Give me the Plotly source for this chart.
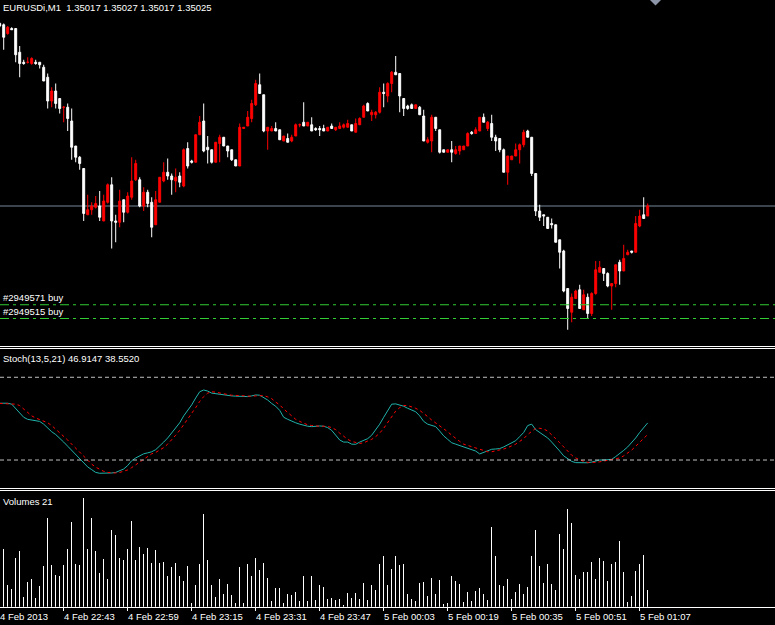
import plotly.graph_objects as go

SYMBOL = "EURUSDi,M1"

open_ = [1.35171, 1.35170, 1.35163, 1.35167, 1.35167, 1.35148, 1.35140, 1.35140, 1.35139, 1.35140,
         1.35140, 1.35136, 1.35128, 1.35109, 1.35117, 1.35111, 1.35104, 1.35104, 1.35093, 1.35073,
         1.35064, 1.35055, 1.35018, 1.35022, 1.35024, 1.35025, 1.35013, 1.35028, 1.35042, 1.35013,
         1.35012, 1.35030, 1.35020, 1.35032, 1.35046, 1.35046, 1.35025, 1.35036, 1.35028, 1.35010,
         1.35028, 1.35045, 1.35052, 1.35049, 1.35045, 1.35049, 1.35041, 1.35071, 1.35061, 1.35060,
         1.35082, 1.35093, 1.35072, 1.35070, 1.35060, 1.35075, 1.35080, 1.35073, 1.35070, 1.35062,
         1.35057, 1.35087, 1.35089, 1.35095, 1.35106, 1.35122, 1.35114, 1.35085, 1.35085, 1.35087,
         1.35086, 1.35077, 1.35079, 1.35077, 1.35081, 1.35090, 1.35092, 1.35089, 1.35090, 1.35087,
         1.35087, 1.35087, 1.35085, 1.35089, 1.35086, 1.35087, 1.35088, 1.35088, 1.35090, 1.35084,
         1.35090, 1.35096, 1.35107, 1.35098, 1.35098, 1.35100, 1.35116, 1.35113, 1.35123, 1.35132,
         1.35131, 1.35111, 1.35105, 1.35106, 1.35103, 1.35104, 1.35097, 1.35076, 1.35077, 1.35096,
         1.35086, 1.35070, 1.35068, 1.35070, 1.35067, 1.35069, 1.35070, 1.35073, 1.35084, 1.35083,
         1.35085, 1.35096, 1.35087, 1.35091, 1.35080, 1.35079, 1.35070, 1.35052, 1.35062, 1.35065,
         1.35070, 1.35074, 1.35085, 1.35080, 1.35051, 1.35021, 1.35018, 1.35016, 1.35011, 1.35010,
         1.34998, 1.34989, 1.34959, 1.34940, 1.34951, 1.34958, 1.34942, 1.34952, 1.34939, 1.34955,
         1.34972, 1.34975, 1.34971, 1.34961, 1.34963, 1.34980, 1.34973, 1.34986, 1.34989, 1.34988,
         1.35009, 1.35018, 1.35017]

high_ = [1.35172, 1.35171, 1.35169, 1.35168, 1.35167, 1.35153, 1.35142, 1.35144, 1.35144, 1.35142,
         1.35140, 1.35138, 1.35131, 1.35120, 1.35123, 1.35111, 1.35105, 1.35107, 1.35103, 1.35073,
         1.35065, 1.35055, 1.35034, 1.35028, 1.35033, 1.35037, 1.35034, 1.35043, 1.35048, 1.35018,
         1.35038, 1.35030, 1.35036, 1.35064, 1.35062, 1.35048, 1.35040, 1.35038, 1.35032, 1.35037,
         1.35048, 1.35060, 1.35063, 1.35051, 1.35055, 1.35052, 1.35071, 1.35076, 1.35062, 1.35082,
         1.35097, 1.35107, 1.35081, 1.35070, 1.35076, 1.35082, 1.35080, 1.35073, 1.35070, 1.35062,
         1.35091, 1.35088, 1.35101, 1.35110, 1.35126, 1.35131, 1.35114, 1.35088, 1.35089, 1.35092,
         1.35086, 1.35081, 1.35083, 1.35082, 1.35091, 1.35091, 1.35108, 1.35092, 1.35096, 1.35088,
         1.35089, 1.35090, 1.35088, 1.35091, 1.35088, 1.35092, 1.35091, 1.35094, 1.35090, 1.35095,
         1.35096, 1.35106, 1.35108, 1.35102, 1.35101, 1.35120, 1.35123, 1.35124, 1.35133, 1.35145,
         1.35131, 1.35111, 1.35106, 1.35107, 1.35106, 1.35105, 1.35102, 1.35080, 1.35098, 1.35096,
         1.35086, 1.35070, 1.35070, 1.35077, 1.35073, 1.35073, 1.35073, 1.35084, 1.35085, 1.35088,
         1.35096, 1.35099, 1.35093, 1.35098, 1.35082, 1.35079, 1.35071, 1.35065, 1.35065, 1.35075,
         1.35075, 1.35086, 1.35086, 1.35080, 1.35051, 1.35026, 1.35018, 1.35016, 1.35015, 1.35010,
         1.34998, 1.34990, 1.34959, 1.34955, 1.34958, 1.34962, 1.34958, 1.34955, 1.34956, 1.34981,
         1.34981, 1.34975, 1.34972, 1.34963, 1.34978, 1.34982, 1.34994, 1.34990, 1.34989, 1.35017,
         1.35022, 1.35032, 1.35027]

low_ = [1.35168, 1.35150, 1.35162, 1.35166, 1.35140, 1.35128, 1.35138, 1.35139, 1.35138, 1.35138,
        1.35135, 1.35125, 1.35103, 1.35104, 1.35103, 1.35099, 1.35092, 1.35085, 1.35062, 1.35060,
        1.35054, 1.35013, 1.35018, 1.35018, 1.35023, 1.35013, 1.35013, 1.35027, 1.34991, 1.34996,
        1.35008, 1.35012, 1.35019, 1.35030, 1.35045, 1.35024, 1.35021, 1.35024, 1.35000, 1.35010,
        1.35028, 1.35044, 1.35046, 1.35034, 1.35036, 1.35040, 1.35040, 1.35055, 1.35059, 1.35060,
        1.35082, 1.35068, 1.35059, 1.35059, 1.35060, 1.35060, 1.35073, 1.35064, 1.35061, 1.35057,
        1.35057, 1.35087, 1.35089, 1.35092, 1.35105, 1.35115, 1.35084, 1.35070, 1.35085, 1.35085,
        1.35078, 1.35077, 1.35076, 1.35076, 1.35081, 1.35088, 1.35089, 1.35089, 1.35085, 1.35085,
        1.35081, 1.35085, 1.35085, 1.35087, 1.35085, 1.35087, 1.35087, 1.35088, 1.35085, 1.35084,
        1.35090, 1.35096, 1.35101, 1.35093, 1.35095, 1.35099, 1.35104, 1.35108, 1.35116, 1.35130,
        1.35100, 1.35097, 1.35102, 1.35103, 1.35103, 1.35098, 1.35077, 1.35075, 1.35068, 1.35085,
        1.35067, 1.35068, 1.35068, 1.35060, 1.35066, 1.35066, 1.35070, 1.35073, 1.35082, 1.35083,
        1.35085, 1.35092, 1.35085, 1.35077, 1.35069, 1.35068, 1.35052, 1.35042, 1.35062, 1.35065,
        1.35059, 1.35072, 1.35080, 1.35049, 1.35017, 1.35013, 1.35009, 1.35007, 1.35007, 1.34996,
        1.34975, 1.34956, 1.34926, 1.34932, 1.34951, 1.34943, 1.34942, 1.34935, 1.34937, 1.34954,
        1.34972, 1.34965, 1.34960, 1.34942, 1.34960, 1.34962, 1.34973, 1.34986, 1.34987, 1.34988,
        1.35008, 1.35015, 1.35017]

close_ = [1.35169, 1.35160, 1.35168, 1.35166, 1.35146, 1.35139, 1.35139, 1.35140, 1.35143, 1.35139,
          1.35138, 1.35125, 1.35109, 1.35117, 1.35107, 1.35103, 1.35104, 1.35095, 1.35072, 1.35064,
          1.35059, 1.35019, 1.35022, 1.35025, 1.35027, 1.35016, 1.35029, 1.35042, 1.35013, 1.35012,
          1.35029, 1.35020, 1.35033, 1.35045, 1.35059, 1.35025, 1.35036, 1.35027, 1.35008, 1.35030,
          1.35048, 1.35052, 1.35049, 1.35046, 1.35048, 1.35044, 1.35070, 1.35057, 1.35060, 1.35082,
          1.35092, 1.35069, 1.35070, 1.35060, 1.35076, 1.35080, 1.35073, 1.35069, 1.35062, 1.35057,
          1.35088, 1.35088, 1.35096, 1.35107, 1.35123, 1.35115, 1.35085, 1.35088, 1.35087, 1.35085,
          1.35078, 1.35081, 1.35076, 1.35080, 1.35090, 1.35090, 1.35089, 1.35092, 1.35085, 1.35086,
          1.35086, 1.35085, 1.35088, 1.35087, 1.35088, 1.35089, 1.35090, 1.35091, 1.35085, 1.35091,
          1.35095, 1.35105, 1.35101, 1.35100, 1.35100, 1.35116, 1.35115, 1.35123, 1.35132, 1.35130,
          1.35113, 1.35103, 1.35103, 1.35103, 1.35106, 1.35098, 1.35077, 1.35078, 1.35096, 1.35087,
          1.35068, 1.35068, 1.35070, 1.35068, 1.35070, 1.35073, 1.35073, 1.35083, 1.35083, 1.35086,
          1.35096, 1.35092, 1.35092, 1.35080, 1.35077, 1.35070, 1.35052, 1.35065, 1.35065, 1.35070,
          1.35074, 1.35084, 1.35080, 1.35051, 1.35021, 1.35016, 1.35017, 1.35007, 1.35010, 1.34996,
          1.34988, 1.34957, 1.34943, 1.34952, 1.34957, 1.34943, 1.34954, 1.34939, 1.34955, 1.34974,
          1.34976, 1.34971, 1.34961, 1.34963, 1.34978, 1.34973, 1.34983, 1.34988, 1.34988, 1.35011,
          1.35017, 1.35015, 1.35025]

volume = [30,
          72, 27, 22, 61, 70, 12, 31, 35, 11, 26,
          51, 111, 52, 40, 38, 52, 72, 106, 53, 52,
          136, 72, 111, 70, 42, 60, 35, 96, 90, 61,
          58, 72, 107, 58, 75, 66, 73, 55, 71, 55,
          56, 38, 50, 55, 38, 32, 51, 5, 27, 53,
          116, 58, 27, 12, 35, 16, 28, 15, 5, 50,
          5, 53, 38, 61, 46, 55, 36, 7, 23, 23,
          5, 16, 15, 18, 7, 38, 7, 38, 8, 27,
          25, 10, 11, 8, 10, 2, 17, 11, 17, 10,
          30, 8, 27, 21, 53, 63, 27, 47, 63, 52,
          53, 16, 10, 7, 30, 31, 13, 36, 16, 33,
          3, 5, 38, 32, 28, 6, 18, 7, 20, 23,
          16, 8, 100, 63, 27, 26, 35, 10, 18, 28,
          16, 25, 63, 96, 51, 30, 53, 28, 21, 91,
          72, 122, 105, 40, 35, 43, 43, 56, 35, 61,
          57, 32, 53, 56, 82, 43, 6, 13, 45, 53,
          65, 21]

stoch_main = [61.2, 61.2, 61.2, 60.5, 57.5, 54, 51, 49.5, 49, 49,
              48, 46, 43, 40.5, 38.5, 36, 33, 30, 27, 24,
              20.5, 17.5, 15, 13, 11, 10.4, 10.4, 10.4, 10.6, 11,
              12.3, 13.5, 16, 19.5, 21.5, 23, 24.5, 25.2, 26, 27.5,
              30, 33, 36, 39.5, 43, 47, 52, 56, 60, 65,
              69.5, 70.8, 70, 68.5, 68, 67.5, 67, 67, 66.5, 66.3,
              66.2, 66, 66, 66.5, 67.2, 67, 65.5, 63.5, 61, 59,
              56, 51, 49.5, 48, 47, 46, 45, 44.5, 44.2, 44.5,
              44.7, 44.5, 43.5, 41.5, 38, 34.5, 33, 33, 31.5, 31.4,
              33, 34, 35.5, 38, 42, 46, 51, 56, 60.5, 60.7,
              60, 59, 57.5, 56, 55, 52, 48, 46, 45, 44.2,
              41, 37.5, 35, 32.5, 31.5, 30.5, 29, 28.5, 27.5, 26.5,
              24.4, 25.5, 26.5, 27.8, 28, 28.3, 29.5, 31, 33, 34,
              37, 40, 45, 46, 42, 40, 38.5, 36, 33, 30,
              26.5, 23, 21, 19, 18.1, 18, 18, 18, 18.5, 19.5,
              20, 20, 20, 20.5, 22.5, 24.5, 27, 29.5, 32.5, 36,
              40, 43.5, 46.9147]

stoch_signal = [61, 61, 61, 61, 60.5, 59.5, 57, 54.5, 52, 50.5,
                49.5, 48.5, 47, 45, 42.5, 40, 37.5, 34.5, 31.5, 28.5,
                25.5, 22.5, 19.5, 17, 14.8, 13, 11.8, 11, 10.6, 10.6,
                11, 11.7, 12.8, 14.5, 16.5, 19, 21, 23, 24.5, 25.5,
                27, 29, 31.5, 34.5, 38, 41.5, 45.5, 49.5, 54, 58,
                62.5, 66, 68.5, 69.5, 69.2, 68.5, 68, 67.5, 67, 66.8,
                66.5, 66.2, 66.1, 66.2, 66.5, 66.8, 66.7, 65.8, 64.5, 62,
                60, 57, 54.5, 52, 49.5, 48, 46.5, 45.5, 45, 44.6,
                44.5, 44.5, 44.3, 43.5, 42, 39.5, 37, 35, 33.5, 32.5,
                32, 32.5, 33.5, 35, 37, 39.5, 43, 47, 51.5, 55.5,
                58, 59.5, 59.5, 58.7, 57.5, 56, 54, 51.5, 49, 47,
                45, 43, 40.5, 38, 35.5, 33.5, 31.5, 30.5, 29.5, 28.5,
                27.5, 26.5, 26, 26, 26.5, 27.2, 28, 29, 30.2, 31.5,
                33.5, 35.5, 38.5, 41, 43, 43, 42.5, 41, 38.5, 35.5,
                32.5, 29.5, 26.5, 23.5, 21.5, 20, 19, 18.3, 18.1, 18.3,
                18.7, 19.2, 19.6, 20, 20.6, 21.5, 23, 24.9, 27.2, 30,
                33, 35.7, 38.552]

tick_bars = [0, 16, 32, 48, 64, 80, 96, 112, 128, 144, 160]
tick_labels = ["4 Feb 2013", "4 Feb 22:43", "4 Feb 22:59", "4 Feb 23:15", "4 Feb 23:31",
               "4 Feb 23:47", "5 Feb 00:03", "5 Feb 00:19", "5 Feb 00:35", "5 Feb 00:51",
               "5 Feb 01:07"]

order_labels = ["#2949571 buy", "#2949515 buy"]
order_prices = [1.34946, 1.34935]
stoch_levels = [80, 20]
stoch_params = "13,5,21"

W, H = 775, 625
X_RANGE = [0.075, 193.825]
FONT = "Liberation Sans, Arial, sans-serif"
FS = 9.5
NB = "\u00a0"


def py(pix):
    return 1 - pix / H


def bar_to_paper(b):
    return (b - X_RANGE[0]) / (X_RANGE[1] - X_RANGE[0])


n = len(close_)
bars = list(range(n))

fig = go.Figure()
fig.add_trace(go.Candlestick(
    x=bars, open=open_, high=high_, low=low_, close=close_,
    increasing=dict(line=dict(color="#FF0000", width=1), fillcolor="#FF0000"),
    decreasing=dict(line=dict(color="#FFFFFF", width=1), fillcolor="#FFFFFF"),
    whiskerwidth=0, xaxis="x", yaxis="y", hoverinfo="skip", showlegend=False))
fig.add_trace(go.Scatter(x=bars, y=stoch_main, mode="lines", xaxis="x", yaxis="y2",
                         line=dict(color="#20B2AA", width=1), hoverinfo="skip", showlegend=False))
fig.add_trace(go.Scatter(x=bars, y=stoch_signal, mode="lines", xaxis="x", yaxis="y2",
                         line=dict(color="#FF0000", width=1, dash="3px,3px"), hoverinfo="skip",
                         showlegend=False))
fig.add_trace(go.Bar(x=bars, y=volume, width=0.25, xaxis="x", yaxis="y3",
                     marker=dict(color="#FFFFFF", line=dict(width=0)), hoverinfo="skip",
                     showlegend=False))

shapes = []
shapes.append(dict(type="line", xref="paper", x0=0, x1=1, yref="y", y0=close_[-1], y1=close_[-1],
                   line=dict(color="#778899", width=1), layer="below"))
for p in order_prices:
    shapes.append(dict(type="line", xref="paper", x0=0, x1=1, yref="y", y0=p, y1=p,
                       line=dict(color="#32CD32", width=1, dash="9px,4px,3px,4px")))
for lv in stoch_levels:
    shapes.append(dict(type="line", xref="paper", x0=0, x1=1, yref="y2", y0=lv, y1=lv,
                       line=dict(color="#C0C0C0", width=1, dash="4px,3px")))
for pix in [346.5, 348.5, 488.5, 490.5]:
    shapes.append(dict(type="line", xref="paper", x0=0, x1=1, yref="paper", y0=py(pix), y1=py(pix),
                       line=dict(color="#FFFFFF", width=1)))
shapes.append(dict(type="path", xref="paper", yref="paper",
                   path=f"M {650/W},{py(0)} L {661/W},{py(0)} L {655.5/W},{py(5.5)} Z",
                   fillcolor="#8C96A8", line=dict(width=0)))

annotations = []
annotations.append(dict(
    text=f"{SYMBOL}{NB} {open_[-1]:.5f} {high_[-1]:.5f} {low_[-1]:.5f} {close_[-1]:.5f}",
    xref="paper", yref="paper", x=1 / W, y=py(7.5), xanchor="left", yanchor="middle",
    showarrow=False, font=dict(color="#FFFFFF", size=FS, family=FONT)))
for lab, p in zip(order_labels, order_prices):
    annotations.append(dict(text=lab, xref="paper", yref="y", x=1 / W, y=p,
                            xanchor="left", yanchor="bottom", showarrow=False,
                            font=dict(color="#FFFFFF", size=FS, family=FONT)))
annotations.append(dict(
    text=f"Stoch({stoch_params}) {stoch_main[-1]:.4f} {stoch_signal[-1]:.4f}",
    xref="paper", yref="paper", x=1 / W, y=py(358.5), xanchor="left", yanchor="middle",
    showarrow=False, font=dict(color="#FFFFFF", size=FS, family=FONT)))
annotations.append(dict(
    text=f"Volumes {volume[-1]}",
    xref="paper", yref="paper", x=1 / W, y=py(501), xanchor="left", yanchor="middle",
    showarrow=False, font=dict(color="#FFFFFF", size=FS, family=FONT)))
for b, lab in zip(tick_bars, tick_labels):
    annotations.append(dict(text=lab, xref="paper", yref="paper", x=bar_to_paper(b), y=py(616),
                            xanchor="left", yanchor="middle", showarrow=False, xshift=-2,
                            font=dict(color="#FFFFFF", size=FS, family=FONT)))

fig.update_layout(
    width=W, height=H, margin=dict(l=0, r=0, t=0, b=0),
    paper_bgcolor="#000000", plot_bgcolor="#000000",
    showlegend=False, bargap=0, hovermode=False,
    shapes=shapes, annotations=annotations,
    xaxis=dict(range=X_RANGE, anchor="y3", showgrid=False, zeroline=False,
               showline=True, linecolor="#FFFFFF", linewidth=1,
               ticks="outside", tickvals=tick_bars, ticklen=3, tickcolor="#FFFFFF", tickwidth=1,
               showticklabels=False, rangeslider=dict(visible=False), fixedrange=True),
    yaxis=dict(domain=[py(345), 1], range=[1.349138, 1.351898], visible=False, fixedrange=True),
    yaxis2=dict(domain=[py(487.6), py(349.7)], range=[0, 100], visible=False, fixedrange=True),
    yaxis3=dict(domain=[py(606.7), py(490.5)], range=[0, 145.25], visible=False, fixedrange=True),
)

fig.write_html("out.html", config={"displayModeBar": False, "staticPlot": True},
               post_script="document.body.style.margin='0';document.body.style.overflow='hidden';")
